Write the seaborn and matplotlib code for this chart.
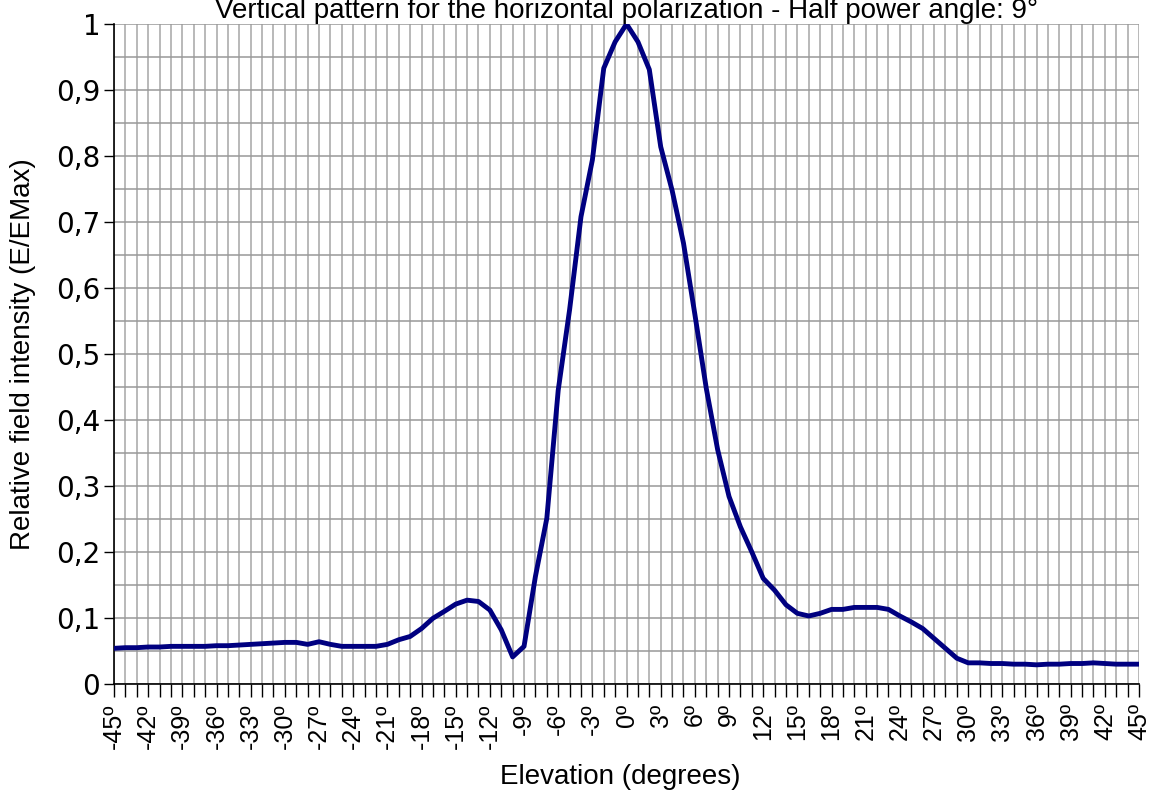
import numpy as np
import pandas as pd
import matplotlib.pyplot as plt
import seaborn as sns

sns.set_style('white')
plt.rcParams['font.family'] = ['Liberation Sans', 'DejaVu Sans']
plt.rcParams['text.color'] = 'black'
plt.rcParams['axes.labelcolor'] = 'black'
plt.rcParams['xtick.color'] = 'black'
plt.rcParams['ytick.color'] = 'black'

# angulos de elevacion (grados) y campo relativo E/EMax
elevation = list(range(-45, 46))
field = [0.054, 0.055, 0.055, 0.056, 0.056, 0.057, 0.057, 0.057, 0.057, 0.058,
         0.058, 0.059, 0.060, 0.061, 0.062, 0.063, 0.063, 0.060, 0.064, 0.060,
         0.057, 0.057, 0.057, 0.057, 0.060, 0.067, 0.072, 0.084, 0.0995, 0.110,
         0.121, 0.127, 0.125, 0.112, 0.082, 0.041, 0.057, 0.163, 0.251, 0.445,
         0.567, 0.708, 0.794, 0.933, 0.973, 1.0, 0.973, 0.931, 0.814, 0.748,
         0.668, 0.560, 0.448, 0.355, 0.284, 0.238, 0.200, 0.160, 0.142, 0.120,
         0.107, 0.103, 0.107, 0.113, 0.113, 0.116, 0.116, 0.116, 0.113, 0.103,
         0.094, 0.084, 0.069, 0.054, 0.039, 0.032, 0.032, 0.031, 0.031, 0.030,
         0.030, 0.029, 0.030, 0.030, 0.031, 0.031, 0.032, 0.031, 0.030, 0.030,
         0.030]
xtick_pos = list(range(-45, 46, 3))
xtick_lab = ['%dº' % v for v in xtick_pos]
ytick_pos = [i / 10 for i in range(11)]
ytick_lab = ['0', '0,1', '0,2', '0,3', '0,4', '0,5', '0,6', '0,7', '0,8', '0,9', '1']

df = pd.DataFrame({'elev': elevation, 'field': field})

fig = plt.figure(figsize=(11.53, 7.92), dpi=100)
ax = fig.add_axes([0.0989, 0.1364, 0.889, 0.8333])

# rejilla: vertical cada grado, horizontal cada 0,05
for v in range(-45, 46):
    ax.axvline(v, color='#a6a6a6', lw=1.1, zorder=0)
for k in range(21):
    ax.axhline(k * 0.05, color='#999999', lw=1.1, zorder=0)

sns.lineplot(data=df, x='elev', y='field', ax=ax, color='#000080', lw=3.5, zorder=3)

ax.set_xlim(-45, 45)
ax.set_ylim(0, 1)
ax.set_xticks(range(-45, 46), minor=True)
ax.set_xticks(xtick_pos)
ax.set_xticklabels(xtick_lab, rotation=90, fontsize=18)
ax.set_yticks(ytick_pos)
ax.set_yticklabels(ytick_lab, fontsize=20, family='DejaVu Sans')
ax.tick_params(axis='x', which='both', direction='out', length=9, width=1, color='black', bottom=True, pad=5)
ax.tick_params(axis='y', direction='out', length=7, width=1, color='black', left=True, pad=3)

for s in ['top', 'right']:
    ax.spines[s].set_visible(False)
ax.spines['left'].set_color('black')
ax.spines['bottom'].set_color('black')
ax.spines['left'].set_linewidth(1.2)
ax.spines['bottom'].set_linewidth(1.2)

ax.set_xlabel('Elevation (degrees)', fontsize=20)
ax.set_ylabel('Relative field intensity (E/EMax)', fontsize=20)
ax.xaxis.set_label_coords(0.494, -0.122)
ax.yaxis.set_label_coords(-0.076, 0.5)
ax.set_title('Vertical pattern for the horizontal polarization - Half power angle: 9°', fontsize=20, pad=4)

fig.savefig('out.png', dpi=100)
